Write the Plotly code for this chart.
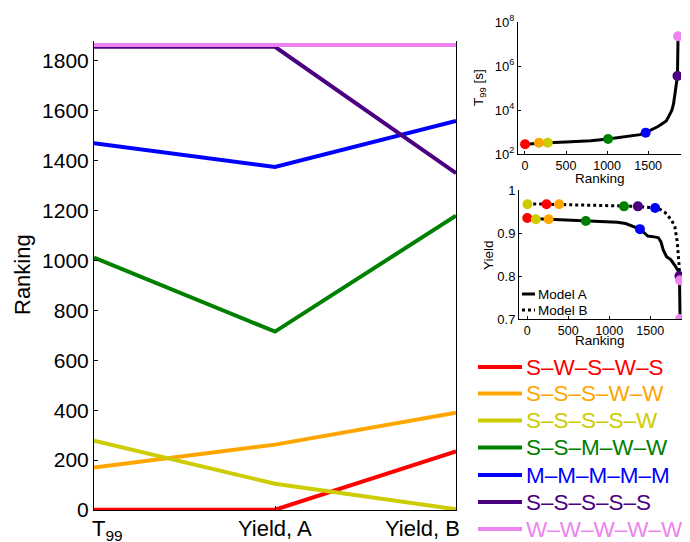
import plotly.graph_objects as go

FONT = "Liberation Sans, Arial, Helvetica, sans-serif"

# ---------------- data ----------------
criteria = ["T<sub>99</sub>", "Yield, A", "Yield, B"]
strategies = ["S–W–S–W–S", "S–S–S–W–W", "S–S–S–S–W", "S–S–M–W–W",
              "M–M–M–M–M", "S–S–S–S–S", "W–W–W–W–W"]
colors = ["#ff0000", "#ffa500", "#cccc00", "#008000", "#0000ff", "#4b0082", "#ee82ee"]

rank_t99 = [1, 170, 278, 1012, 1470, 1857, 1864]
rank_yield_a = [1, 262, 105, 715, 1375, 1857, 1864]
rank_yield_b = [235, 390, 3, 1180, 1560, 1350, 1864]

# inset 1: T99 [s] vs ranking
t99_curve_rank = [0, 170, 278, 500, 800, 1012, 1100, 1200, 1300, 1400, 1470, 1550,
                  1620, 1680, 1720, 1750, 1790, 1810, 1830, 1845, 1857, 1864]
t99_curve_val = [275, 316, 324, 355, 398, 479, 525, 603, 661, 759, 933, 1259,
                 1778, 2512, 3162, 5012, 10000, 19953, 63096, 158489, 354813, 22387211]
t99_strat = [275, 324, 324, 479, 933, 354813, 22387211]
t99_ticks = [1e2, 1e4, 1e6, 1e8]
t99_ticktext = ["10<sup>2</sup>", "10<sup>4</sup>", "10<sup>6</sup>", "10<sup>8</sup>"]

# inset 2: yield vs ranking
ya_curve_rank = [0, 105, 262, 500, 715, 900, 1100, 1200, 1300, 1375, 1430, 1470, 1550,
                 1600, 1630, 1660, 1700, 1750, 1800, 1840, 1857, 1864]
ya_curve_val = [0.935, 0.933, 0.932, 0.930, 0.928, 0.926, 0.925, 0.922, 0.915, 0.909,
                0.900, 0.893, 0.891, 0.889, 0.880, 0.860, 0.845, 0.838, 0.825, 0.812,
                0.800, 0.700]
yb_curve_rank = [0, 235, 390, 800, 1180, 1350, 1560, 1620, 1680, 1720, 1760, 1800,
                 1830, 1850, 1864]
yb_curve_val = [0.968, 0.967, 0.967, 0.965, 0.962, 0.962, 0.958, 0.955, 0.948, 0.940,
                0.930, 0.915, 0.880, 0.830, 0.790]
yield_a_strat = [0.935, 0.932, 0.932, 0.928, 0.909, 0.800, 0.700]
yield_b_strat = [0.967, 0.967, 0.967, 0.962, 0.958, 0.962, 0.790]
model_names = ["Model A", "Model B"]
model_dash = ["solid", "dot"]

# page offset of the plot div (default body margin)
OFF = 8
W, H = 690 - OFF, 542 - OFF
fig = go.Figure()

# main parallel-coordinate lines
xpos = [0, 1, 2]
for i, name in enumerate(strategies):
    fig.add_trace(go.Scatter(
        x=xpos, y=[rank_t99[i], rank_yield_a[i], rank_yield_b[i]],
        mode="lines", line=dict(color=colors[i], width=4),
        name=name, showlegend=False, xaxis="x", yaxis="y"))

# inset 1
fig.add_trace(go.Scatter(x=t99_curve_rank, y=t99_curve_val, mode="lines",
                         line=dict(color="black", width=3), showlegend=False,
                         xaxis="x2", yaxis="y2"))
fig.add_trace(go.Scatter(x=rank_t99, y=t99_strat, mode="markers",
                         marker=dict(color=colors, size=10), showlegend=False,
                         xaxis="x2", yaxis="y2"))

# inset 2
fig.add_trace(go.Scatter(x=ya_curve_rank, y=ya_curve_val, mode="lines",
                         line=dict(color="black", width=3, dash=model_dash[0]),
                         name=model_names[0], showlegend=False, xaxis="x3", yaxis="y3"))
fig.add_trace(go.Scatter(x=yb_curve_rank, y=yb_curve_val, mode="lines",
                         line=dict(color="black", width=3, dash=model_dash[1]),
                         name=model_names[1], showlegend=False, xaxis="x3", yaxis="y3"))
fig.add_trace(go.Scatter(x=rank_yield_a, y=yield_a_strat, mode="markers",
                         marker=dict(color=colors, size=10), showlegend=False,
                         xaxis="x3", yaxis="y3"))
fig.add_trace(go.Scatter(x=rank_yield_b, y=yield_b_strat, mode="markers",
                         marker=dict(color=colors, size=10), showlegend=False,
                         xaxis="x3", yaxis="y3"))

def px_x(p):
    return (p - OFF) / W

def px_y(p):
    return 1 - (p - OFF) / H

axis_common = dict(showgrid=False, zeroline=False, showline=True, linecolor="black",
                   linewidth=1, ticks="inside", tickcolor="black", automargin=False)

fig.update_layout(
    width=W, height=H, margin=dict(l=0, r=0, t=0, b=0, autoexpand=False),
    paper_bgcolor="white", plot_bgcolor="white",
    font=dict(family=FONT, color="black"),
    showlegend=False,
    xaxis=dict(domain=[px_x(94), px_x(456)], range=[0, 2], anchor="y",
               tickvals=xpos, showticklabels=False, ticklen=4, **axis_common),
    yaxis=dict(domain=[px_y(510), px_y(41)], range=[0, 1880], anchor="x",
               tickvals=[0, 200, 400, 600, 800, 1000, 1200, 1400, 1600, 1800],
               tickfont=dict(size=21), ticklen=4, mirror=True, **axis_common),
    xaxis2=dict(domain=[px_x(518), px_x(681)], range=[-85, 1900], anchor="y2",
                tickvals=[0, 500, 1000, 1500], tickfont=dict(size=12.5), ticklen=3,
                **axis_common),
    yaxis2=dict(domain=[px_y(154), px_y(22)], type="log", range=[2, 8], anchor="x2",
                tickvals=t99_ticks, ticktext=t99_ticktext,
                tickfont=dict(size=13), ticklen=3, **axis_common),
    xaxis3=dict(domain=[px_x(519), px_x(683)], range=[-100, 1900], anchor="y3",
                tickvals=[0, 500, 1000, 1500], tickfont=dict(size=12.5), ticklen=3,
                **axis_common),
    yaxis3=dict(domain=[px_y(319), px_y(190)], range=[0.7, 1.0], anchor="x3",
                tickvals=[0.7, 0.8, 0.9, 1.0], ticktext=["0.7", "0.8", "0.9", "1"],
                tickfont=dict(size=13), ticklen=3, **axis_common),
)

def label(text, x, y, size, angle=0, xanchor="center", yanchor="middle",
          xref="paper", color="black", xshift=0):
    return dict(text=text, x=x, y=y, xref=xref, yref="paper", textangle=angle,
                xanchor=xanchor, yanchor=yanchor, showarrow=False, xshift=xshift,
                font=dict(size=size, color=color))

annotations = [
    label("Ranking", px_x(22), px_y(275), 22, angle=-90),
    label(criteria[0], 0, px_y(514), 22, xanchor="left", yanchor="top", xref="x", xshift=-4),
    label(criteria[1], 1, px_y(514), 22, xanchor="center", yanchor="top", xref="x"),
    label(criteria[2], 2, px_y(514), 22, xanchor="right", yanchor="top", xref="x", xshift=6),
    label("Ranking", px_x(600), px_y(178), 13.5),
    label("T<sub>99</sub> [s]", px_x(479), px_y(88), 13.5, angle=-90),
    label("Ranking", px_x(600), px_y(340), 13.5),
    label("Yield", px_x(488), px_y(255), 13.5, angle=-90),
]
shapes = []

# main legend (manual)
leg_rows = [367, 393.5, 420.5, 447.5, 475, 502, 529]
for i, name in enumerate(strategies):
    yy = px_y(leg_rows[i])
    shapes.append(dict(type="line", xref="paper", yref="paper",
                       x0=px_x(478), x1=px_x(522), y0=yy, y1=yy,
                       line=dict(color=colors[i], width=4)))
    annotations.append(label(name, px_x(524), yy, 22.5, xanchor="left", color=colors[i]))

# model legend (manual)
model_rows = [294, 310]
for j, mname in enumerate(model_names):
    yy = px_y(model_rows[j])
    shapes.append(dict(type="line", xref="paper", yref="paper",
                       x0=px_x(522), x1=px_x(535), y0=yy, y1=yy,
                       line=dict(color="black", width=3, dash=model_dash[j])))
    annotations.append(label(mname, px_x(536), yy, 13.5, xanchor="left"))

fig.update_layout(annotations=annotations, shapes=shapes)

fig.write_html("out.html")
